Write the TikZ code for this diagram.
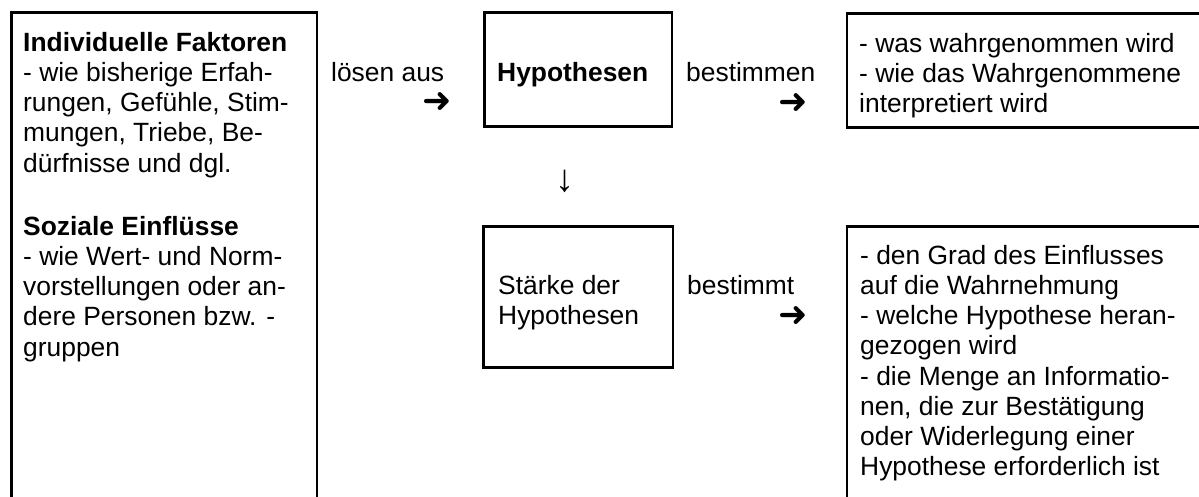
\documentclass[tikz,border=0pt]{standalone}
\usepackage{fontspec}
\setmainfont{Liberation Sans}
\newfontfamily\djv{DejaVu Sans}
\begin{document}
\begin{tikzpicture}[x=1pt,y=-1pt,
  box/.style={draw, line width=2.8pt, inner sep=0pt, anchor=north west},
  txt/.style={anchor=north west, inner sep=0pt, align=left, font=\fontsize{26.4}{30.2}\selectfont},
  arr/.style={inner sep=0pt, font=\djv\fontsize{35}{35}\selectfont},
  dwn/.style={inner sep=0pt, font=\fontsize{38}{38}\selectfont},
]
\useasboundingbox (0,0) rectangle (1199,496);
\clip (0,0) rectangle (1199,496);
% boxes
\node[box, minimum width=305.5pt, minimum height=560pt] (left) at (10,11.3) {};
\node[box, minimum width=187.5pt, minimum height=114pt] (hyp) at (483,11.2) {};
\node[box, minimum width=400pt, minimum height=114pt] (res1) at (845.5,12) {};
\node[box, minimum width=189.3pt, minimum height=141.5pt] (st) at (482.2,224.8) {};
\node[box, minimum width=400pt, minimum height=320pt] (res2) at (845.5,224.8) {};
% texts (north = first baseline - 22)
\newcommand\fs{\rule{0pt}{22pt}}
\node[txt] (t1) at (23,29) {\fs\textbf{Individuelle Faktoren}\\
- wie bisherige Erfah-\\
rungen, Gefühle, Stim-\\
mungen, Triebe, Be-\\
dürfnisse und dgl.};
\node[txt] (t2) at (23,213) {\fs\textbf{Soziale Einflüsse}\\
- wie Wert- und Norm-\\
vorstellungen oder an-\\
dere Personen bzw. -\\
gruppen};
\node[txt] (l1) at (331,59) {\fs lösen aus};
\node[txt] (th) at (497,59.5) {\fs\textbf{Hypothesen}};
\node[txt] (l2) at (686,59) {\fs bestimmen};
\node[txt] (t3) at (859,30) {\fs - was wahrgenommen wird\\
- wie das Wahrgenommene\\
interpretiert wird};
\node[txt] (ts) at (498,272.5) {\fs Stärke der\\Hypothesen};
\node[txt] (l3) at (687,272.5) {\fs bestimmt};
\node[txt] (t4) at (860,242) {\fs - den Grad des Einflusses\\
auf die Wahrnehmung\\
- welche Hypothese heran-\\
gezogen wird\\
- die Menge an Informatio-\\
nen, die zur Bestätigung\\
oder Widerlegung einer\\
Hypothese erforderlich ist};
% arrows (glyphs)
\node[arr] (a1) at (437.5,103) {➜};
\node[arr] (a2) at (793.5,103.5) {➜};
\node[arr] (a3) at (793.5,316.5) {➜};
\node[dwn] (d1) at (565,181) {↓};
\end{tikzpicture}
\end{document}
